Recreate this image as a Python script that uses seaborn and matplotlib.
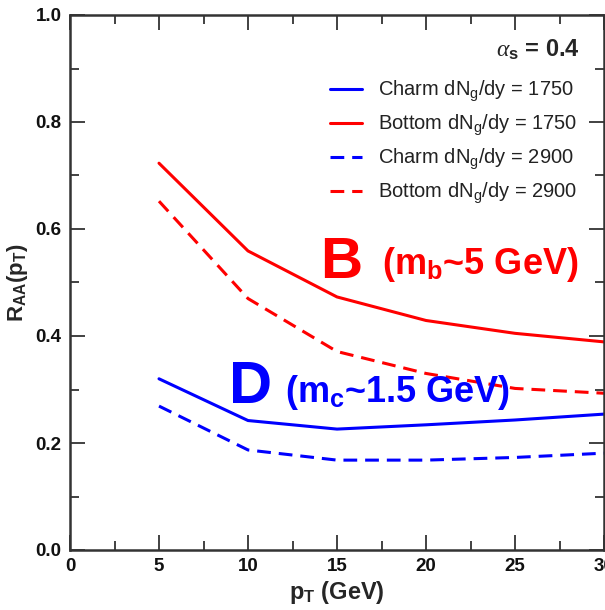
import numpy as np
import pandas as pd
import matplotlib
matplotlib.use("Agg")
import matplotlib.pyplot as plt
from matplotlib.ticker import MultipleLocator
import seaborn as sns

# ---- data ----
pt = [5, 10, 15, 20, 25, 30]
charm_1750 = [0.320, 0.242, 0.226, 0.234, 0.243, 0.254]
bottom_1750 = [0.723, 0.559, 0.473, 0.429, 0.405, 0.389]
charm_2900 = [0.269, 0.187, 0.168, 0.168, 0.173, 0.181]
bottom_2900 = [0.652, 0.470, 0.371, 0.330, 0.302, 0.293]

labels = ["Charm dN$_\\mathregular{g}$/dy = 1750",
          "Bottom dN$_\\mathregular{g}$/dy = 1750",
          "Charm dN$_\\mathregular{g}$/dy = 2900",
          "Bottom dN$_\\mathregular{g}$/dy = 2900"]
series = [charm_1750, bottom_1750, charm_2900, bottom_2900]
colors = ["#0000ff", "#ff0000", "#0000ff", "#ff0000"]
dashed = [False, False, True, True]

sns.set_style("ticks")
plt.rcParams["font.family"] = ["Liberation Sans", "DejaVu Sans"]
plt.rcParams["mathtext.fontset"] = "custom"
plt.rcParams["mathtext.rm"] = "Liberation Sans"
plt.rcParams["mathtext.it"] = "Liberation Serif:italic"
plt.rcParams["mathtext.bf"] = "Liberation Sans:bold"

fig = plt.figure(figsize=(6.05, 6.1), dpi=100)
ax = fig.add_axes([70 / 605, 1 - 550 / 610, 534 / 605, 535 / 610])

handles = []
for lab, ys, col, dsh in zip(labels, series, colors, dashed):
    df = pd.DataFrame({"pT": pt, "RAA": ys})
    sns.lineplot(data=df, x="pT", y="RAA", ax=ax, color=col, lw=2.2,
                 legend=False)
    line = ax.get_lines()[-1]
    if dsh:
        line.set_dashes((4.5, 2.6))
    line.set_label(lab)
    handles.append(line)

ax.set_xlim(0, 30)
ax.set_ylim(0, 1.0)
ax.xaxis.set_major_locator(MultipleLocator(5))
ax.xaxis.set_minor_locator(MultipleLocator(2.5))
ax.yaxis.set_major_locator(MultipleLocator(0.2))
ax.yaxis.set_minor_locator(MultipleLocator(0.1))
ax.tick_params(which="both", direction="in", top=True, right=True,
               color="#333333", width=1.3, pad=6)
ax.tick_params(which="major", length=11)
ax.tick_params(which="minor", length=6.5)
for sp in ax.spines.values():
    sp.set_linewidth(1.8)
    sp.set_color("#333333")
    sp.set_visible(True)

ax.set_xticklabels([f"{int(v)}" for v in ax.get_xticks()])
ax.set_yticklabels([f"{v:.1f}" for v in ax.get_yticks()])
for t in ax.get_xticklabels() + ax.get_yticklabels():
    t.set_fontweight("bold")
    t.set_fontsize(13.5)
    t.set_color("#111111")

ax.set_xlabel("p$_\\mathregular{T}$ (GeV)", fontsize=17, fontweight="bold",
              labelpad=3)
ax.set_ylabel("R$_\\mathregular{AA}$(p$_\\mathregular{T}$)", fontsize=16,
              fontweight="bold", labelpad=4)

leg = ax.legend(handles=handles, loc="upper left",
                bbox_to_anchor=((330 - 70) / 534, 0.880), frameon=False,
                fontsize=14.5, handlelength=1.6, handletextpad=0.78,
                labelspacing=0.43, borderpad=0, borderaxespad=0)
for t in leg.get_texts():
    t.set_color("#222222")

ax.text(0.955, 0.934, r"$\alpha_{\mathbf{s}}$ = 0.4", transform=ax.transAxes,
        ha="right", va="center", fontsize=17, fontweight="bold")

ax.text(0.468, 0.508, "B", transform=ax.transAxes, color="#ff0000",
        fontsize=42, fontweight="bold", ha="left", va="baseline")
ax.text(0.584, 0.516, "(m$_\\mathregular{b}$~5 GeV)", transform=ax.transAxes,
        color="#ff0000", fontsize=26, fontweight="bold", ha="left",
        va="baseline")
ax.text(0.298, 0.275, "D", transform=ax.transAxes, color="#0000ff",
        fontsize=43, fontweight="bold", ha="left", va="baseline")
ax.text(0.403, 0.276, "(m$_\\mathregular{c}$~1.5 GeV)", transform=ax.transAxes,
        color="#0000ff", fontsize=26, fontweight="bold", ha="left",
        va="baseline")

fig.savefig("out.png", dpi=100)
